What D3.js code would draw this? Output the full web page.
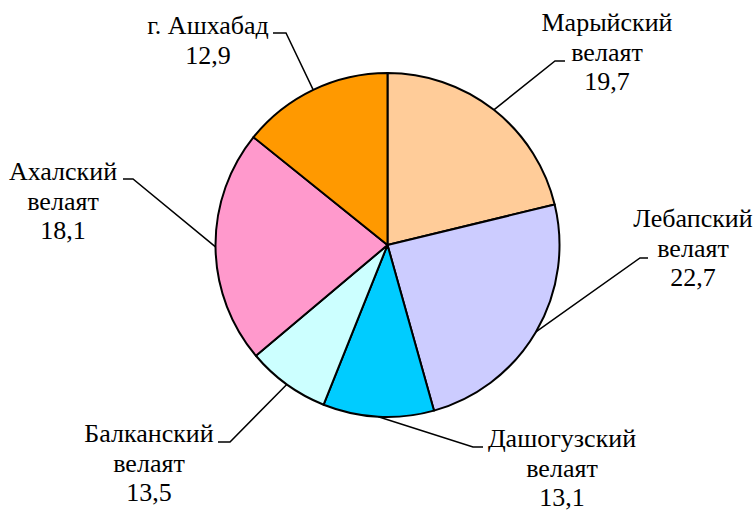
<!DOCTYPE html>
<html>
<head>
<meta charset="utf-8">
<script src="https://cdn.jsdelivr.net/npm/d3@7"></script>
</head>
<body style="margin:0">
<svg id="chart" width="756" height="510"></svg>
<script>
// regions, clockwise from 12 o'clock
const regions = ["Марыйский велаят", "Лебапский велаят", "Дашогузский велаят", "Балканский велаят", "Ахалский велаят", "г. Ашхабад"];
// slice shares (%)
const shares = [21.2, 24.4, 10.4, 7.8, 21.9, 14.2];
// values printed in the labels
const labelValues = ["19,7", "22,7", "13,1", "13,5", "18,1", "12,9"];
const colors = ["#FFCC99", "#CCCCFF", "#00CCFF", "#CCFFFF", "#FF99CC", "#FF9900"];

// label layout: text centre x, first baseline y, leader elbow [x, y], leader end x
const labelLayout = [
  { x: 607, y: 31, elbow: [555, 61], end: 565 },
  { x: 693, y: 227, elbow: [640, 258], end: 648 },
  { x: 562, y: 447, elbow: [473, 447], end: 483 },
  { x: 149, y: 442, elbow: [230, 442], end: 218 },
  { x: 63, y: 180, elbow: [133, 179], end: 123 },
  { x: 208, y: 34, elbow: [286, 33], end: 273 }
];

const svg = d3.select("#chart");
const cx = 387.5, cy = 245, r = 172;
const lineH = 29.5;

const pie = d3.pie().sort(null).value((d) => d.share);
const arc = d3.arc().innerRadius(0).outerRadius(r);

const data = regions.map((name, i) => ({ name, share: shares[i], value: labelValues[i], color: colors[i], layout: labelLayout[i] }));
const arcs = pie(data);

const g = svg.append("g").attr("transform", `translate(${cx}, ${cy})`);

g.selectAll("path.slice")
  .data(arcs)
  .join("path")
  .attr("class", "slice")
  .attr("d", arc)
  .attr("fill", (d) => d.data.color)
  .attr("stroke", "#000")
  .attr("stroke-width", 2)
  .attr("stroke-linejoin", "round");

// leader lines from the middle of each slice's rim
arcs.forEach((a) => {
  const mid = (a.startAngle + a.endAngle) / 2;
  const sx = cx + r * Math.sin(mid);
  const sy = cy - r * Math.cos(mid);
  const L = a.data.layout;
  svg.append("path")
    .attr("d", d3.line()([[sx, sy], L.elbow, [L.end, L.elbow[1]]]))
    .attr("fill", "none")
    .attr("stroke", "#000")
    .attr("stroke-width", 1.5);
});

// labels, one text element per line
arcs.forEach((a) => {
  const L = a.data.layout;
  const lines = a.data.name.startsWith("г.") ? [a.data.name] : a.data.name.split(" ");
  lines.push(a.data.value);
  lines.forEach((s, k) => {
    svg.append("text")
      .attr("x", L.x)
      .attr("y", L.y + k * lineH)
      .attr("font-family", "Times New Roman")
      .attr("font-size", 26)
      .attr("text-anchor", "middle")
      .text(s);
  });
});
</script>
</body>
</html>
